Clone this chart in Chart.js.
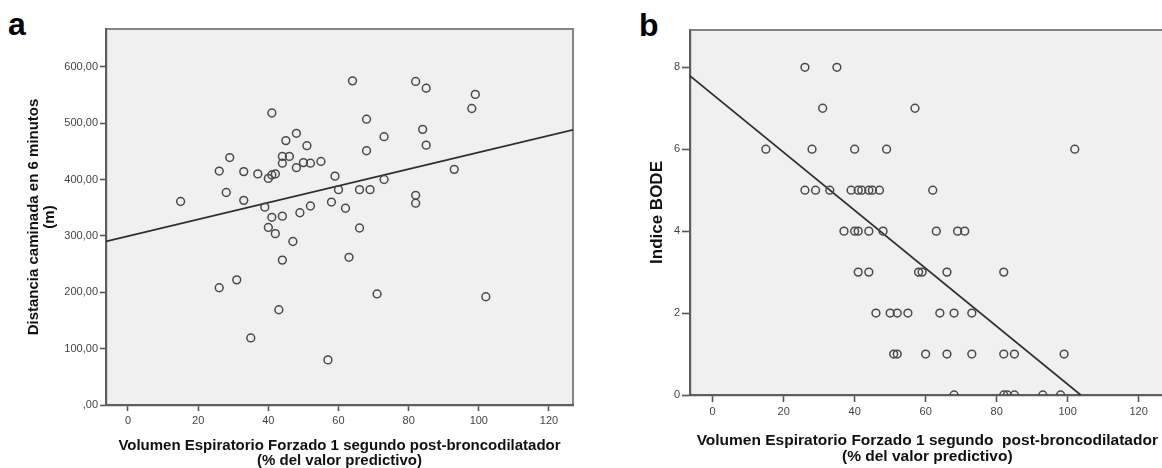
<!DOCTYPE html>
<html>
<head>
<meta charset="utf-8">
<script src="https://cdn.jsdelivr.net/npm/chart.js@4.4.0/dist/chart.umd.min.js"></script>
<style>
  body { margin: 0; background: #fff; width: 1162px; height: 468px; overflow: hidden; position: relative;
         font-family: "Liberation Sans", Arial, sans-serif; }
  #graficaA { position: absolute; left: 0; top: 0; }
  #graficaB { position: absolute; left: 580px; top: 0; }
  .letra { position: absolute; font-weight: bold; font-size: 32px; line-height: 1; color: #000; }
</style>
</head>
<body>
<div class="letra" style="left:8px;top:8px">a</div>
<div class="letra" style="left:639px;top:9px">b</div>
<canvas id="graficaA" width="580" height="468"></canvas>
<canvas id="graficaB" width="590" height="468"></canvas>
<script>
// Panel a: VEF1 post-broncodilatador vs distancia caminada en 6 minutos
const vefA = [15, 26, 26, 28, 29, 31, 33, 33, 35, 37, 39, 40, 40, 41, 41, 41, 42, 42, 43, 44,
              44, 44, 44, 45, 46, 47, 48, 48, 49, 50, 51, 52, 52, 55, 57, 58, 59, 60, 62, 63,
              64, 66, 66, 68, 68, 69, 71, 73, 73, 82, 82, 82, 84, 85, 85, 93, 98, 99, 102];
const distanciaA = [361, 415, 208, 377, 439, 222, 414, 363, 119, 410, 351, 402, 315, 518, 408, 333, 410, 304, 169, 441,
                    429, 335, 257, 469, 441, 290, 482, 421, 341, 430, 460, 429, 353, 432, 80, 360, 406, 382, 349, 262,
                    575, 382, 314, 507, 451, 382, 197, 476, 400, 574, 372, 358, 489, 562, 461, 418, 526, 551, 192];
const ajusteA = [299.6, 1.487];   // intercepto, pendiente

// Panel b: VEF1 post-broncodilatador vs indice BODE
const vefB = [26, 35, 31, 57, 15, 28, 40, 49, 102,
              26, 29, 33, 39, 41, 42, 44, 45, 47, 62,
              37, 40, 41, 44, 48, 63, 69, 71,
              41, 44, 58, 59, 66, 82,
              46, 50, 52, 55, 64, 68, 73,
              51, 52, 60, 66, 73, 82, 85, 99,
              68, 82, 83, 85, 93, 98];
const bodeB = [8, 8, 7, 7, 6, 6, 6, 6, 6,
               5, 5, 5, 5, 5, 5, 5, 5, 5, 5,
               4, 4, 4, 4, 4, 4, 4, 4,
               3, 3, 3, 3, 3, 3,
               2, 2, 2, 2, 2, 2, 2,
               1, 1, 1, 1, 1, 1, 1, 1,
               0, 0, 0, 0, 0, 0];
const ajusteB = [7.34, -0.0708];

// ejes y etiquetas
const ticksX = [0, 20, 40, 60, 80, 100, 120];
const ticksYA = [0, 100, 200, 300, 400, 500, 600];
const etiquetasYA = [",00", "100,00", "200,00", "300,00", "400,00", "500,00", "600,00"];
const ticksYB = [0, 2, 4, 6, 8];
const etiquetasYB = ["0", "2", "4", "6", "8"];

const tituloX = "Volumen Espiratorio Forzado 1 segundo post-broncodilatador";
const tituloXB = "Volumen Espiratorio Forzado 1 segundo  post-broncodilatador";
const tituloX2 = "(% del valor predictivo)";

const fuente = '"Liberation Sans", Arial, sans-serif';

const fondo = {
    id: "fondo",
    beforeDraw(chart) {
        const { ctx, chartArea: a } = chart;
        ctx.save();
        ctx.fillStyle = "#f0f0f0";
        ctx.fillRect(a.left, a.top, a.right - a.left, a.bottom - a.top);
        ctx.strokeStyle = "#858585";
        ctx.lineWidth = 2;
        ctx.strokeRect(a.left, a.top, a.right - a.left, a.bottom - a.top);
        ctx.restore();
    }
};

function crearGrafica(id, p) {
    const puntos = p.xs.map((x, i) => ({ x: x, y: p.ys[i] }));
    const linea = [
        { x: p.xMin, y: p.ajuste[0] + p.ajuste[1] * p.xMin },
        { x: p.xFin, y: p.ajuste[0] + p.ajuste[1] * p.xFin }
    ];

    return new Chart(document.getElementById(id), {
        type: "scatter",
        data: {
            datasets: [
                {
                    data: puntos,
                    pointRadius: 3.9,
                    pointHoverRadius: 3.9,
                    borderColor: "#4a4a4a",
                    borderWidth: 1.5,
                    backgroundColor: "rgba(0,0,0,0)"
                },
                {
                    data: linea,
                    showLine: true,
                    pointRadius: 0,
                    borderColor: "#2e2e2e",
                    borderWidth: 1.7
                }
            ]
        },
        options: {
            responsive: false,
            animation: false,
            events: [],
            layout: { padding: { left: 0, top: p.top, right: p.right, bottom: 0 } },
            plugins: { legend: { display: false }, tooltip: { enabled: false } },
            scales: {
                x: {
                    type: "linear",
                    min: p.xMin,
                    max: p.xMax,
                    afterBuildTicks: s => { s.ticks = ticksX.map(v => ({ value: v })); },
                    afterFit: s => { s.height = p.altoX; },
                    grid: { drawOnChartArea: false, drawTicks: true, tickLength: p.largoTickX, tickColor: "#555", tickWidth: 1.6 },
                    border: { display: true, color: "#5e5e5e", width: 2.2 },
                    ticks: { color: "#444", padding: 3, font: { family: fuente, size: 11 } },
                    title: {
                        display: true,
                        text: [p.tituloX, tituloX2],
                        color: "#111",
                        padding: { top: 0, bottom: p.padTituloX },
                        font: { family: fuente, size: p.tamTituloX, weight: "bold", lineHeight: p.lhTituloX }
                    }
                },
                y: {
                    type: "linear",
                    min: 0,
                    max: p.yMax,
                    afterBuildTicks: s => { s.ticks = p.ticksY.map(v => ({ value: v })); },
                    afterFit: s => { s.width = p.anchoY; },
                    grid: { drawOnChartArea: false, drawTicks: true, tickLength: p.largoTickY, tickColor: "#555", tickWidth: 1.6 },
                    border: { display: true, color: "#5e5e5e", width: 2.2 },
                    ticks: {
                        color: "#444",
                        padding: 2,
                        font: { family: fuente, size: 11 },
                        callback: (v, i) => p.etiquetasY[i]
                    },
                    title: {
                        display: true,
                        text: p.tituloY,
                        color: "#111",
                        padding: { top: p.padTituloY, bottom: 0 },
                        font: { family: fuente, size: p.tamTituloY, weight: "bold", lineHeight: p.lhTituloY }
                    }
                }
            }
        },
        plugins: [fondo]
    });
}

crearGrafica("graficaA", {
    xs: vefA, ys: distanciaA, ajuste: ajusteA,
    xMin: -6.27, xMax: 126.85, xFin: 126.85, yMax: 667,
    ticksY: ticksYA, etiquetasY: etiquetasYA,
    top: 29, right: 7, altoX: 63, anchoY: 106,
    largoTickX: 6, largoTickY: 6,
    tituloX: tituloX, tamTituloX: 15, lhTituloX: "15px", padTituloX: 0,
    tituloY: ["Distancia caminada en 6 minutos", "(m)"], tamTituloY: 15, lhTituloY: "16px", padTituloY: 26
});

crearGrafica("graficaB", {
    xs: vefB, ys: bodeB, ajuste: ajusteB,
    xMin: -6.37, xMax: 127.3, xFin: -ajusteB[0] / ajusteB[1], yMax: 8.91,
    ticksY: ticksYB, etiquetasY: etiquetasYB,
    top: 30, right: 4, altoX: 73, anchoY: 110,
    largoTickX: 7, largoTickY: 8,
    tituloX: tituloXB, tamTituloX: 15.5, lhTituloX: "16px", padTituloX: 3,
    tituloY: "Indice BODE", tamTituloY: 17, lhTituloY: "17px", padTituloY: 68.5
});
</script>
</body>
</html>
